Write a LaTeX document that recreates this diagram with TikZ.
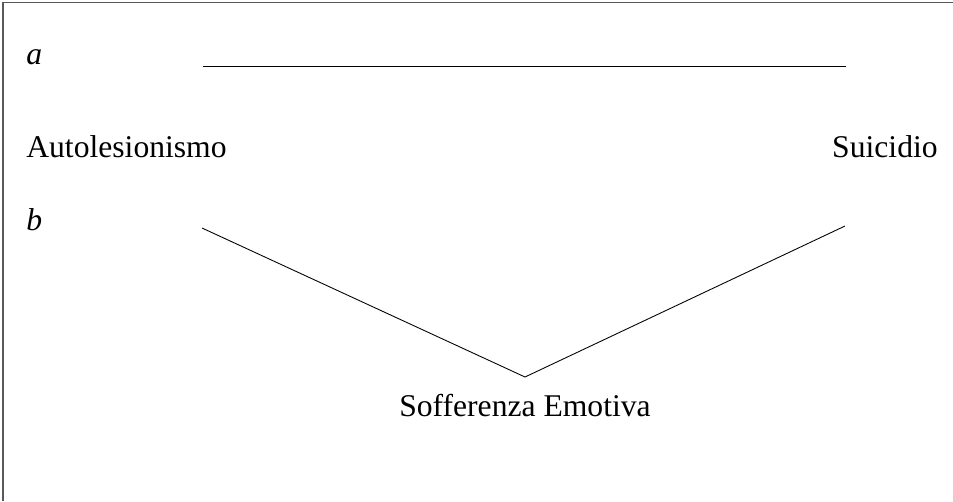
\documentclass[tikz,border=0pt]{standalone}
\usepackage{fontspec}
\setmainfont{Liberation Serif}
\usepackage{tikz}
\usetikzlibrary{positioning}

\begin{document}
\begin{tikzpicture}[x=0.02cm, y=-0.02cm, font=\fontsize{18}{21}\selectfont,
    lbl/.style={inner sep=0pt, anchor=base west},
    trait/.style={line width=0.5pt}]
    \useasboundingbox (0,0) rectangle (953,501);

    % cornice (solo lato superiore e sinistro)
    \draw[gray!70!black, line width=1pt] (3,501) -- (3,2.5) -- (953,2.5);

    % etichette
    \node[lbl] (a) at (26,64) {\textit{a}};
    \node[lbl] (b) at (26,230) {\textit{b}};
    \node[lbl] (auto) at (26,157) {Autolesionismo};
    \node[lbl, anchor=base east] (suic) at (938,157) {Suicidio};
    \node[lbl, anchor=base] (soff) at (525,416) {Sofferenza Emotiva};

    % estremi delle linee
    \coordinate (aL) at (203,66);
    \coordinate (aR) at (846,66);
    \coordinate (bL) at (202,228);
    \coordinate (bV) at (525,377);
    \coordinate (bR) at (845,226);

    % modello a: continuum lineare
    \draw[trait] (aL) -- (aR);

    % modello b: a V con la sofferenza al vertice
    \draw[trait] (bL) -- (bV) -- (bR);
\end{tikzpicture}
\end{document}
